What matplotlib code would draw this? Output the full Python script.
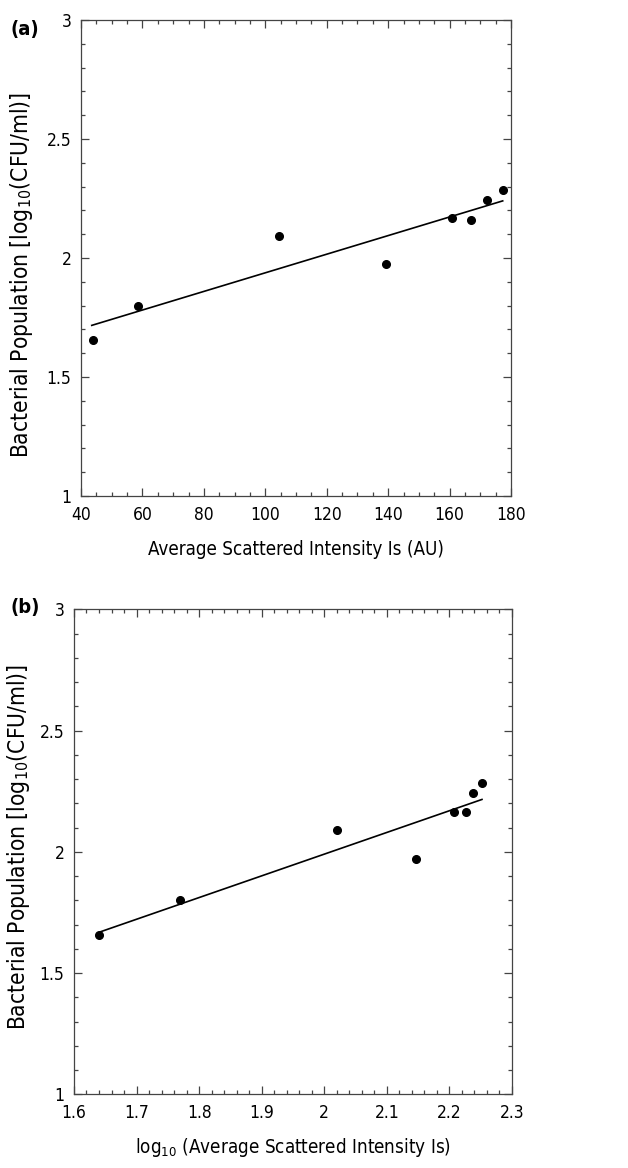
import numpy as np
import matplotlib
matplotlib.use("Agg")
import matplotlib.pyplot as plt
from matplotlib.ticker import MultipleLocator

# panel (a): raw scattered intensity
is_a = [43.8, 58.7, 104.6, 139.3, 160.9, 167.0, 172.1, 177.3]
pop_a = [1.657, 1.800, 2.092, 1.975, 2.166, 2.161, 2.242, 2.287]
fit_a_x = [43.5, 177.3]
fit_a_y = [1.717, 2.240]

# panel (b): log10 of scattered intensity
is_b = [1.640, 1.770, 2.021, 2.147, 2.207, 2.226, 2.237, 2.252]
pop_b = [1.656, 1.800, 2.089, 1.972, 2.165, 2.164, 2.242, 2.284]
fit_b_x = [1.642, 2.252]
fit_b_y = [1.670, 2.216]

plt.rcParams["font.family"] = ["DejaVu Sans"]
plt.rcParams["font.stretch"] = "condensed"
plt.rcParams["mathtext.fontset"] = "custom"
plt.rcParams["mathtext.rm"] = "DejaVu Sans:stretch=condensed"

fig = plt.figure(figsize=(6.28, 11.68), dpi=100)
ax1 = fig.add_axes([0.129, 0.5753, 0.6847, 0.4076])
ax2 = fig.add_axes([0.1178, 0.0631, 0.6975, 0.4152])


def style(ax, xmaj, xmin):
    ax.xaxis.set_major_locator(MultipleLocator(xmaj))
    ax.xaxis.set_minor_locator(MultipleLocator(xmin))
    ax.yaxis.set_major_locator(MultipleLocator(0.5))
    ax.yaxis.set_minor_locator(MultipleLocator(0.1))
    ax.tick_params(which="both", direction="in", top=True, right=True,
                   color="#444444", labelsize=12.5, width=0.9)
    ax.tick_params(which="major", length=6, pad=7)
    ax.tick_params(which="minor", length=3.2)
    for s in ax.spines.values():
        s.set_color("#444444")
        s.set_linewidth(0.9)
    ax.set_ylim(1, 3)
    ax.yaxis.set_major_formatter(plt.FuncFormatter(lambda v, p: f"{v:g}"))
    ax.xaxis.set_major_formatter(plt.FuncFormatter(lambda v, p: f"{v:g}"))


ylab = r"Bacterial Population [log$_{10}$(CFU/ml)]"

ax1.plot(fit_a_x, fit_a_y, color="black", lw=1.2)
ax1.plot(is_a, pop_a, "o", color="black", ms=5.5)
ax1.set_xlim(40, 180)
style(ax1, 20, 5)
ax1.set_xlabel("Average Scattered Intensity Is (AU)", fontsize=13.5, labelpad=12)
ax1.set_ylabel(ylab, fontsize=16.3)
ax1.yaxis.set_label_coords(-0.107, 0.464)
fig.text(0.016, 0.983, "(a)", fontsize=14.5, fontweight="bold", va="top")

ax2.plot(fit_b_x, fit_b_y, color="black", lw=1.2)
ax2.plot(is_b, pop_b, "o", color="black", ms=5.5)
ax2.set_xlim(1.6, 2.3)
style(ax2, 0.1, 0.02)
ax2.set_xlabel(r"log$_{10}$ (Average Scattered Intensity Is)", fontsize=13.5, labelpad=10)
ax2.set_ylabel(ylab, fontsize=16.3)
ax2.yaxis.set_label_coords(-0.096, 0.5105)
fig.text(0.016, 0.488, "(b)", fontsize=14.5, fontweight="bold", va="top")

fig.savefig("out.png", dpi=100)
